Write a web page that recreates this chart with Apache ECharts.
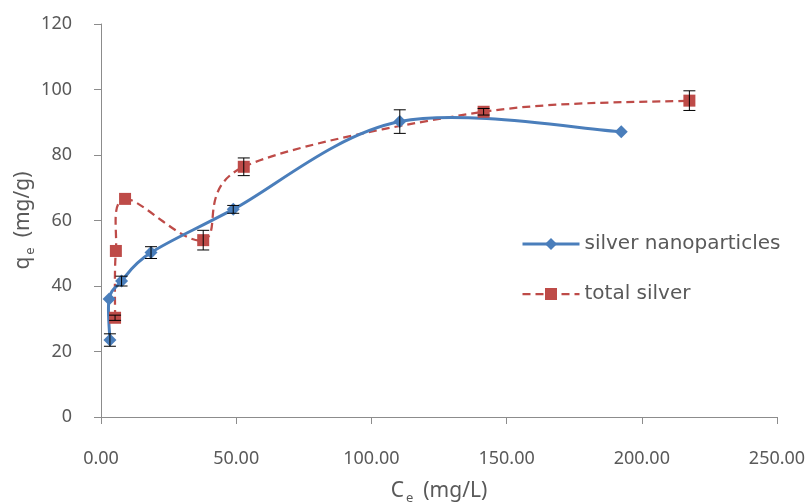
<!DOCTYPE html>
<html>
<head>
<meta charset="utf-8">
<script src="https://cdn.jsdelivr.net/npm/echarts@6/dist/echarts.min.js"></script>
<style>
  html, body { margin: 0; padding: 0; background: #fff; }
  #chart { width: 811px; height: 502px; }
</style>
</head>
<body>
<div id="chart"></div>
<script>
// Adsorption isotherm: equilibrium uptake q_e versus equilibrium concentration C_e
const xTicks = [0, 50, 100, 150, 200, 250];
const yTicks = [0, 20, 40, 60, 80, 100, 120];

const nanoName = 'silver nanoparticles';
const nanoCe = [3.3, 3.0, 7.6, 18.5, 48.9, 110.5, 192.4];
const nanoQe = [23.5, 36.0, 41.5, 50.2, 63.4, 90.2, 87.1];
const nanoErr = [1.9, 0, 1.5, 1.8, 1.2, 3.6, 0];

const totalName = 'total silver';
const totalCe = [5.2, 5.5, 8.9, 37.8, 52.8, 141.5, 217.6];
const totalQe = [30.3, 50.7, 66.6, 54.0, 76.4, 93.2, 96.6];
const totalErr = [0.8, 0, 0, 3.0, 2.7, 1.0, 3.0];

const nanoColor = '#4A7EBB';
const totalColor = '#BE4B48';
const textColor = '#595959';
const axisColor = '#8c8c8c';
const fontFamily = '"Noto Sans", "Open Sans", sans-serif';
const wideFont = '"DejaVu Sans", "Noto Sans", sans-serif';

const nanoLine = { color: nanoColor, width: 3 };
const totalLine = { color: totalColor, width: 2.25, type: [8, 5] };

function pairs(xs, ys) { return xs.map((x, i) => [x, ys[i]]); }
function errRows(xs, ys, es) {
  return xs.map((x, i) => [x, ys[i] - es[i], ys[i] + es[i]]).filter((r, i) => es[i] > 0);
}

// Vertical error bars with end caps
function errorBarSeries(rows) {
  return {
    type: 'custom',
    z: 5,
    silent: true,
    data: rows,
    renderItem: function (params, api) {
      const x = api.value(0);
      const lo = api.coord([x, api.value(1)]);
      const hi = api.coord([x, api.value(2)]);
      const half = 6;
      const style = { stroke: '#000', lineWidth: 1 };
      return {
        type: 'group',
        children: [
          { type: 'line', shape: { x1: lo[0], y1: lo[1], x2: hi[0], y2: hi[1] }, style: style },
          { type: 'line', shape: { x1: lo[0] - half, y1: lo[1], x2: lo[0] + half, y2: lo[1] }, style: style },
          { type: 'line', shape: { x1: hi[0] - half, y1: hi[1], x2: hi[0] + half, y2: hi[1] }, style: style }
        ]
      };
    }
  };
}

// Smoothed connecting curve (cardinal spline in screen space, spreadsheet style)
function curveSeries(xs, ys, line) {
  return {
    type: 'custom',
    z: 2,
    silent: true,
    data: [0],
    renderItem: function (params, api) {
      const p = xs.map((x, i) => api.coord([x, ys[i]]));
      const n = p.length;
      const k = 1 / 6;
      const children = [];
      for (let i = 0; i < n - 1; i++) {
        const a = p[Math.max(i - 1, 0)], b = p[i], c = p[i + 1], d = p[Math.min(i + 2, n - 1)];
        children.push({
          type: 'bezierCurve',
          shape: {
            x1: b[0], y1: b[1],
            cpx1: b[0] + (c[0] - a[0]) * k, cpy1: b[1] + (c[1] - a[1]) * k,
            cpx2: c[0] - (d[0] - b[0]) * k, cpy2: c[1] - (d[1] - b[1]) * k,
            x2: c[0], y2: c[1]
          },
          style: {
            stroke: line.color, lineWidth: line.width, fill: null,
            lineDash: line.type && typeof line.type !== 'string' ? line.type : null,
            lineCap: 'butt'
          }
        });
      }
      return { type: 'group', children: children };
    }
  };
}

function axisTitle(main, sub, unit) {
  return '{n|' + main + '}{s|' + sub + '}{n|(' + unit + ')}';
}
const titleRich = {
  n: { fontSize: 21, color: textColor, fontFamily: fontFamily },
  s: { fontSize: 13, color: textColor, fontFamily: fontFamily, padding: [14, 10, 0, 2] }
};

const chart = echarts.init(document.getElementById('chart'), null, { renderer: 'canvas' });

chart.setOption({
  animation: false,
  backgroundColor: '#fff',
  textStyle: { fontFamily: fontFamily },
  grid: { left: 101, right: 34, top: 24, bottom: 85, containLabel: false, outerBoundsMode: 'none' },
  legend: {
    orient: 'vertical',
    left: 516,
    top: 229,
    itemWidth: 57,
    itemHeight: 15,
    itemGap: 30,
    data: [
      { name: nanoName, lineStyle: Object.assign({ opacity: 1 }, nanoLine) },
      { name: totalName, lineStyle: Object.assign({ opacity: 1 }, totalLine) }
    ],
    textStyle: { color: textColor, fontSize: 20, fontFamily: wideFont }
  },
  xAxis: {
    type: 'value',
    min: xTicks[0],
    max: xTicks[xTicks.length - 1],
    interval: xTicks[1] - xTicks[0],
    splitLine: { show: false },
    axisLine: { show: true, onZero: false, lineStyle: { color: axisColor, width: 1 } },
    axisTick: { show: true, inside: false, length: 7, lineStyle: { color: axisColor } },
    axisLabel: {
      color: textColor, fontSize: 18, margin: 33,
      formatter: v => v.toFixed(2)
    },
    name: axisTitle('C', 'e', 'mg/L'),
    nameLocation: 'middle',
    nameGap: 61,
    nameTextStyle: { rich: titleRich }
  },
  yAxis: {
    type: 'value',
    min: yTicks[0],
    max: yTicks[yTicks.length - 1],
    interval: yTicks[1] - yTicks[0],
    splitLine: { show: false },
    axisLine: { show: true, onZero: false, lineStyle: { color: axisColor, width: 1 } },
    axisTick: { show: true, inside: false, length: 7, lineStyle: { color: axisColor } },
    axisLabel: { color: textColor, fontSize: 18, margin: 29 },
    name: axisTitle('q', 'e', 'mg/g'),
    nameLocation: 'middle',
    nameGap: 64,
    nameMoveOverlap: false,
    nameRotate: 90,
    nameTextStyle: { rich: titleRich }
  },
  series: [
    {
      name: nanoName,
      type: 'line',
      data: pairs(nanoCe, nanoQe),
      symbol: 'diamond',
      symbolSize: [13, 13],
      z: 3,
      lineStyle: Object.assign({}, nanoLine, { opacity: 0 }),
      itemStyle: { color: nanoColor }
    },
    {
      name: totalName,
      type: 'line',
      data: pairs(totalCe, totalQe),
      symbol: 'rect',
      symbolSize: [12, 12],
      z: 3,
      lineStyle: Object.assign({}, totalLine, { opacity: 0 }),
      itemStyle: { color: totalColor }
    },
    curveSeries(totalCe, totalQe, totalLine),
    curveSeries(nanoCe, nanoQe, nanoLine),
    errorBarSeries(errRows(nanoCe, nanoQe, nanoErr)),
    errorBarSeries(errRows(totalCe, totalQe, totalErr))
  ]
});
</script>
</body>
</html>
